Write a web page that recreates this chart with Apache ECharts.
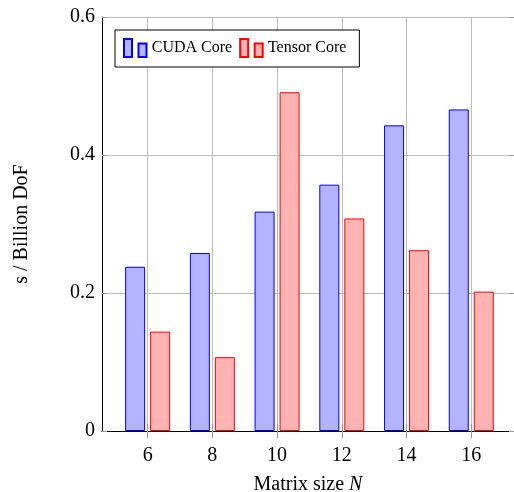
<!DOCTYPE html>
<html>
<head>
<meta charset="utf-8">
<script src="https://cdn.jsdelivr.net/npm/echarts@6/dist/echarts.min.js"></script>
<style>
  html, body { margin: 0; padding: 0; background: #fff; overflow: hidden; }
  #main { width: 514px; height: 492px; }
</style>
</head>
<body>
<div id="main"></div>
<script>
// matrix sizes N on the x axis
const sizes = [6, 8, 10, 12, 14, 16]
// s / Billion DoF
const cudaCore = [0.238, 0.258, 0.318, 0.357, 0.443, 0.466]
const tensorCore = [0.144, 0.107, 0.491, 0.308, 0.262, 0.202]
const yTicks = [0, 0.2, 0.4, 0.6]

const font = 'Liberation Serif'
const gridGray = '#bdbdbd'

const chart = echarts.init(document.getElementById('main'))

// legend icon: two small bars like pgfplots ybar legend
const barIcon = 'path://M0,0H8V18H0Z M14.5,4.5H22.5V18H14.5Z'

const xCommon = {
    type: 'value',
    min: 4.59,
    max: 17.32,
    axisLine: { show: true, lineStyle: { color: '#000', width: 1 } },
    axisTick: { show: true, customValues: sizes, inside: false, length: 7, lineStyle: { color: '#999' } }
}

const option = {
    animation: false,
    textStyle: { fontFamily: font },
    // v6 would otherwise shrink the grid to keep the axis name inside
    grid: { left: 102, right: 0, top: 17, bottom: 61, containLabel: false, outerBoundsMode: 'none' },
    legend: {
        left: 115,
        top: 30,
        orient: 'horizontal',
        icon: barIcon,
        itemWidth: 23,
        itemHeight: 18,
        itemGap: 7,
        padding: [8, 13, 9, 8],
        borderColor: '#000',
        borderWidth: 1,
        backgroundColor: '#fff',
        textStyle: { fontFamily: font, fontSize: 16, color: '#000' },
        data: ['CUDA Core', 'Tensor Core']
    },
    xAxis: [
        Object.assign({}, xCommon, {
            position: 'bottom',
            name: 'Matrix size {i|N}',
            nameLocation: 'middle',
            nameGap: 44,
            nameTextStyle: {
                fontFamily: font, fontSize: 20, color: '#000',
                rich: { i: { fontFamily: font, fontSize: 20, fontStyle: 'italic', color: '#000' } }
            },
            axisLabel: { customValues: sizes, fontFamily: font, fontSize: 20, color: '#000', margin: 15 },
            splitLine: { show: true, lineStyle: { color: gridGray, width: 1 } }
        }),
        Object.assign({}, xCommon, {
            position: 'top',
            axisLabel: { show: false },
            splitLine: { show: false }
        })
    ],
    yAxis: [
        {
            type: 'value',
            min: 0,
            max: 0.6,
            interval: 0.2,
            position: 'left',
            name: 's / Billion DoF',
            nameLocation: 'middle',
            nameGap: 70,
            nameTextStyle: { fontFamily: font, fontSize: 20, color: '#000' },
            axisLine: { show: true, lineStyle: { color: '#000', width: 1 } },
            axisTick: { show: true, inside: true, length: 5, lineStyle: { color: '#999' } },
            axisLabel: {
                fontFamily: font, fontSize: 20, color: '#000', margin: 7,
                formatter: v => yTicks.includes(+v.toFixed(1)) ? String(+v.toFixed(1)) : ''
            },
            splitLine: { show: true, lineStyle: { color: gridGray, width: 1 } }
        },
        {
            type: 'value',
            min: 0,
            max: 0.6,
            interval: 0.2,
            position: 'right',
            axisLine: { show: false },
            axisTick: { show: true, inside: true, length: 5, lineStyle: { color: '#999' } },
            axisLabel: { show: false },
            splitLine: { show: false }
        }
    ],
    series: [
        {
            name: 'CUDA Core',
            type: 'bar',
            xAxisIndex: 0,
            yAxisIndex: 0,
            barWidth: 20,
            barGap: '25%',
            itemStyle: { color: '#b3b3ff', borderColor: '#0000ff', borderWidth: 1 },
            data: sizes.map((n, i) => [n, cudaCore[i]])
        },
        {
            name: 'Tensor Core',
            type: 'bar',
            xAxisIndex: 0,
            yAxisIndex: 0,
            barWidth: 20,
            barGap: '25%',
            itemStyle: { color: '#ffb3b3', borderColor: '#ff0000', borderWidth: 1 },
            data: sizes.map((n, i) => [n, tensorCore[i]])
        }
    ]
}

chart.setOption(option)
</script>
</body>
</html>
